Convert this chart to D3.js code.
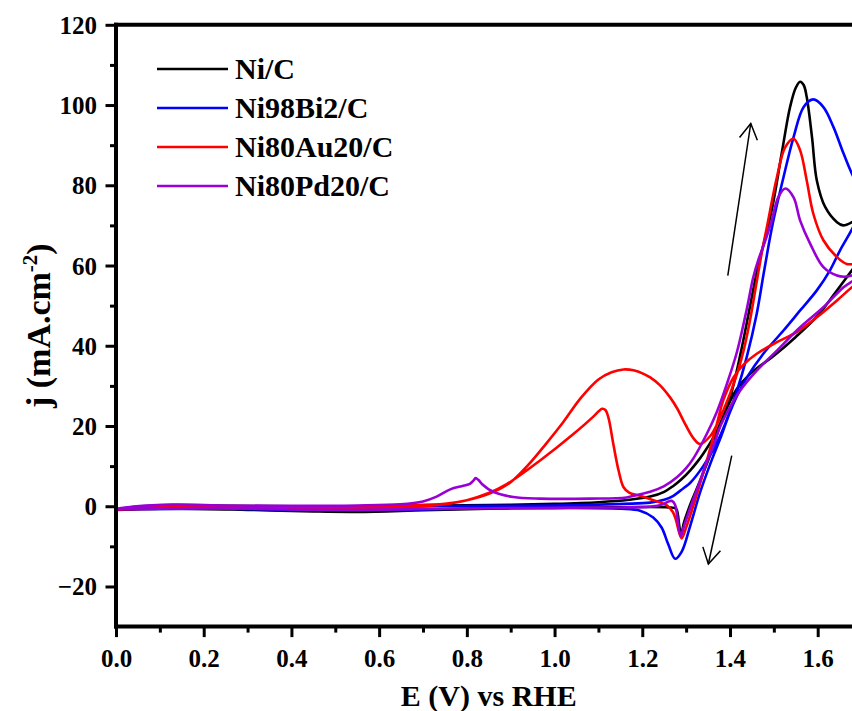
<!DOCTYPE html>
<html>
<head>
<meta charset="utf-8">
<script src="https://cdn.jsdelivr.net/npm/d3@7"></script>
<style>
  html, body { margin: 0; padding: 0; background: #fff; overflow: hidden; }
  text { font-family: "Times New Roman", "Liberation Serif", serif; font-weight: bold; fill: #000; }
</style>
</head>
<body>
<svg id="chart" width="852" height="711"></svg>
<script>
// ---- series: cyclic voltammograms, forward scan then reverse scan (E in V vs RHE, j in mA cm-2)
const seriesNames  = ["Ni/C", "Ni98Bi2/C", "Ni80Au20/C", "Ni80Pd20/C"];
const seriesColors = ["#000000", "#0000ff", "#ff0000", "#9900d6"];

const niC_E = [0.000,0.040,0.130,0.250,0.400,0.550,0.700,0.850,1.000,1.100,1.170,1.218,1.250,1.270,1.290,1.309,1.325,1.339,1.362,1.380,1.400,1.423,1.446,1.462,1.495,1.518,1.537,1.550,1.560,1.568,1.575,1.587,1.598,1.617,1.644,1.658,1.678,1.700,1.740,
               1.740,1.700,1.678,1.640,1.600,1.550,1.500,1.446,1.416,1.395,1.377,1.355,1.332,1.309,1.295,1.2885,1.2845,1.281,1.277,1.260,1.200,1.100,1.000,0.850,0.700,0.550,0.450,0.300,0.150,0.050,0.000];
const niC_j = [-0.8,-0.2,0.3,0.1,0.0,0.0,0.1,0.3,0.6,1.0,1.6,2.4,3.6,5.0,6.8,8.9,11.0,13.1,17.1,21.2,27.0,37.5,50.0,58.8,73.7,88.0,99.5,104.3,105.8,105.0,102.0,92.0,81.2,74.6,70.8,70.0,70.8,72.5,77.0,
               66.0,62.0,58.8,53.2,47.5,42.2,37.5,33.0,29.3,25.0,20.0,12.8,6.4,0.3,-4.1,-7.2,-5.0,-2.0,-0.6,-0.3,-0.2,-0.3,-0.4,-0.6,-1.0,-1.4,-1.3,-0.9,-0.6,-0.7,-0.8];

const niBi_E = [0.000,0.040,0.130,0.250,0.400,0.550,0.700,0.850,1.000,1.100,1.160,1.218,1.250,1.271,1.294,1.309,1.339,1.370,1.390,1.416,1.438,1.461,1.476,1.488,1.499,1.522,1.545,1.568,1.590,1.613,1.636,1.659,1.678,1.700,1.740,
                1.740,1.700,1.678,1.651,1.628,1.598,1.560,1.522,1.476,1.438,1.416,1.400,1.380,1.360,1.332,1.309,1.290,1.275,1.259,1.244,1.225,1.195,1.150,1.000,0.850,0.700,0.550,0.400,0.250,0.100,0.000];
const niBi_j = [-0.9,-0.4,0.1,0.0,-0.1,-0.1,0.0,0.1,0.2,0.4,0.6,0.9,1.6,2.6,4.5,5.8,10.0,15.8,20.8,28.8,37.1,48.0,57.5,65.0,71.2,82.0,92.0,99.5,101.4,99.5,94.5,87.9,82.9,78.5,74.0,
                78.0,74.0,69.0,63.8,58.8,53.8,48.8,43.8,38.0,32.0,27.5,23.5,17.5,12.0,3.5,-5.0,-11.3,-13.1,-9.4,-5.3,-2.8,-1.1,-0.6,-0.4,-0.5,-0.8,-1.0,-0.9,-0.6,-0.7,-0.9];

const niAu_E = [0.000,0.040,0.130,0.250,0.400,0.550,0.650,0.750,0.800,0.853,0.900,0.940,0.980,1.020,1.060,1.100,1.130,1.157,1.180,1.203,1.218,1.240,1.263,1.280,1.294,1.317,1.332,1.355,1.375,1.400,1.416,1.431,1.445,1.461,1.473,1.484,1.507,1.526,1.545,1.560,1.575,1.590,1.613,1.644,1.666,1.678,1.700,1.740,
                1.740,1.700,1.678,1.644,1.598,1.552,1.507,1.461,1.431,1.408,1.385,1.370,1.347,1.324,1.301,1.290,1.284,1.277,1.270,1.256,1.225,1.195,1.170,1.157,1.146,1.134,1.123,1.116,1.108,1.100,1.089,1.043,0.967,0.891,0.850,0.800,0.750,0.700,0.600,0.500,0.350,0.200,0.100,0.000];
const niAu_j = [-0.8,-0.4,0.0,-0.1,-0.1,0.0,0.2,0.6,1.5,3.2,6.0,10.3,15.5,21.0,27.0,31.6,33.4,34.1,33.9,33.0,32.1,30.2,27.2,24.3,21.3,16.9,15.5,17.5,21.5,28.0,33.0,38.8,46.0,56.0,63.5,69.5,82.0,89.5,91.6,88.7,81.2,72.9,66.3,62.1,60.4,60.3,60.0,59.5,
                58.0,56.5,54.6,51.3,47.1,43.4,40.9,38.0,35.3,32.1,26.5,20.5,11.3,2.8,-5.0,-8.0,-6.5,-3.5,-1.5,0.2,1.5,2.6,3.4,4.8,8.9,15.5,22.0,24.0,24.3,23.6,22.4,18.0,11.4,5.5,3.3,1.5,0.5,0.0,-0.4,-0.6,-0.6,-0.5,-0.6,-0.8];

const niPd_E = [0.000,0.040,0.130,0.250,0.400,0.550,0.648,0.700,0.731,0.762,0.792,0.807,0.815,0.820,0.826,0.835,0.860,0.906,0.967,1.081,1.164,1.195,1.218,1.250,1.279,1.300,1.317,1.347,1.370,1.393,1.416,1.438,1.453,1.465,1.480,1.495,1.510,1.526,1.545,1.560,1.583,1.613,1.644,1.660,1.678,1.700,1.740,
                1.740,1.700,1.678,1.659,1.613,1.560,1.507,1.461,1.423,1.400,1.377,1.362,1.345,1.332,1.309,1.295,1.288,1.283,1.279,1.275,1.268,1.260,1.245,1.220,1.150,1.000,0.850,0.700,0.550,0.400,0.250,0.100,0.000];
const niPd_j = [-0.7,-0.1,0.4,0.2,0.1,0.2,0.5,1.2,2.4,4.2,5.1,5.6,6.4,7.0,6.6,5.5,3.6,2.3,1.9,1.9,2.2,3.0,3.6,5.0,7.2,9.5,12.0,18.0,23.5,30.5,38.5,49.0,57.0,61.5,66.0,71.2,77.0,79.2,77.0,71.2,65.4,59.6,57.5,57.2,57.5,58.5,60.0,
                59.0,57.5,56.0,54.6,49.6,44.6,38.8,33.8,28.8,24.7,19.7,15.0,10.5,6.4,-0.5,-5.0,-7.4,-5.5,-2.0,0.3,1.3,1.2,0.4,-0.1,-0.3,-0.4,-0.5,-0.7,-0.9,-0.8,-0.5,-0.5,-0.7];

const seriesE = [niC_E, niBi_E, niAu_E, niPd_E];
const seriesJ = [niC_j, niBi_j, niAu_j, niPd_j];

// ---- axes
const xDomain = [0, 1.7];
const yDomain = [-30, 120];
const xMajor = [0.0, 0.2, 0.4, 0.6, 0.8, 1.0, 1.2, 1.4, 1.6];
const xMinor = [0.1, 0.3, 0.5, 0.7, 0.9, 1.1, 1.3, 1.5, 1.7];
const yMajor = [-20, 0, 20, 40, 60, 80, 100, 120];
const yMinor = [-10, 10, 30, 50, 70, 90, 110];
const xTitle = "E (V) vs RHE";

// scan-direction arrows, [E, j] tail -> tip
const arrowUp   = [[1.395, 57.5], [1.4474, 95.4]];
const arrowDown = [[1.404, 12.6], [1.3507, -14.4]];

// ---- layout
const svg = d3.select("#chart");
const plot = { left: 116, right: 116 + 1.7 * 438.56, top: 24.8, bottom: 626.6 };

const x = d3.scaleLinear().domain(xDomain).range([plot.left, plot.right]);
const y = d3.scaleLinear().domain(yDomain).range([plot.bottom, plot.top]);

svg.append("defs").append("clipPath").attr("id", "plotClip")
  .append("rect")
  .attr("x", plot.left).attr("y", plot.top)
  .attr("width", plot.right - plot.left).attr("height", plot.bottom - plot.top);

// ---- curves
const line = d3.line()
  .x(d => x(d[0]))
  .y(d => y(d[1]))
  .curve(d3.curveCatmullRom.alpha(0.5));

const curves = svg.append("g").attr("clip-path", "url(#plotClip)");
seriesNames.forEach((name, i) => {
  curves.append("path")
    .datum(d3.zip(seriesE[i], seriesJ[i]))
    .attr("fill", "none")
    .attr("stroke", seriesColors[i])
    .attr("stroke-width", 2.6)
    .attr("stroke-linejoin", "round")
    .attr("d", line);
});

// ---- arrows
function drawArrow(a) {
  const x0 = x(a[0][0]), y0 = y(a[0][1]);
  const x1 = x(a[1][0]), y1 = y(a[1][1]);
  const ang = Math.atan2(y0 - y1, x0 - x1);
  const len = 18, spread = Math.PI / 6;
  const g = svg.append("g").attr("stroke", "#000").attr("stroke-width", 1.5).attr("fill", "none");
  g.append("line").attr("x1", x0).attr("y1", y0).attr("x2", x1).attr("y2", y1);
  g.append("path").attr("d",
    `M${x1 + len * Math.cos(ang - spread)},${y1 + len * Math.sin(ang - spread)}` +
    `L${x1},${y1}` +
    `L${x1 + len * Math.cos(ang + spread)},${y1 + len * Math.sin(ang + spread)}`);
}
drawArrow(arrowUp);
drawArrow(arrowDown);

// ---- axes with outward ticks
const fmtX = d3.format(".1f");
const xAxisMajor = d3.axisBottom(x).tickValues(xMajor).tickSize(10.5).tickSizeOuter(0).tickFormat(fmtX);
const xAxisMinor = d3.axisBottom(x).tickValues(xMinor).tickSize(6).tickSizeOuter(0).tickFormat("");
const yAxisMajor = d3.axisLeft(y).tickValues(yMajor).tickSize(10.5).tickSizeOuter(0).tickFormat(d3.format("d"));
const yAxisMinor = d3.axisLeft(y).tickValues(yMinor).tickSize(6).tickSizeOuter(0).tickFormat("");

function styleAxis(g) {
  g.select(".domain").remove();
  g.selectAll(".tick line").attr("stroke", "#000").attr("stroke-width", 3);
  g.selectAll("text").attr("font-family", null).attr("font-size", 25);
}

const gx = svg.append("g").attr("transform", `translate(0,${plot.bottom})`);
gx.append("g").call(xAxisMinor).call(styleAxis);
gx.append("g").call(xAxisMajor).call(styleAxis)
  .selectAll("text").attr("dy", null).attr("y", 40);

const gy = svg.append("g").attr("transform", `translate(${plot.left},0)`);
gy.append("g").call(yAxisMinor).call(styleAxis);
gy.append("g").call(yAxisMajor).call(styleAxis)
  .selectAll("text").attr("x", -19).attr("dy", "0.34em");

// frame: left, bottom and top lines
const frame = svg.append("g").attr("stroke", "#000").attr("stroke-width", 4).attr("stroke-linecap", "square");
frame.append("line").attr("x1", plot.left).attr("y1", plot.top).attr("x2", plot.left).attr("y2", plot.bottom);
frame.append("line").attr("x1", plot.left).attr("y1", plot.bottom).attr("x2", plot.right + 10).attr("y2", plot.bottom);
frame.append("line").attr("x1", plot.left).attr("y1", plot.top).attr("x2", plot.right + 10).attr("y2", plot.top);

// ---- axis titles
svg.append("text")
  .attr("x", (plot.left + plot.right) / 2)
  .attr("y", 706)
  .attr("text-anchor", "middle")
  .attr("font-size", 30)
  .text(xTitle);

const yt = svg.append("text")
  .attr("transform", `translate(50,${(plot.top + plot.bottom) / 2}) rotate(-90)`)
  .attr("text-anchor", "middle")
  .attr("font-size", 34);
yt.append("tspan").text("j (mA.cm");
yt.append("tspan").attr("font-size", 21).attr("dy", -13).text("-2");
yt.append("tspan").attr("dy", 13).text(")");

// ---- legend
const legendX = 157, legendY = 69, legendStep = 39;
const legend = svg.append("g");
seriesNames.forEach((name, i) => {
  const ly = legendY + i * legendStep;
  legend.append("line")
    .attr("x1", legendX).attr("x2", legendX + 71)
    .attr("y1", ly).attr("y2", ly)
    .attr("stroke", seriesColors[i]).attr("stroke-width", 2.4);
  legend.append("text")
    .attr("x", legendX + 78).attr("y", ly + 10)
    .attr("font-size", 30)
    .text(name);
});
</script>
</body>
</html>
